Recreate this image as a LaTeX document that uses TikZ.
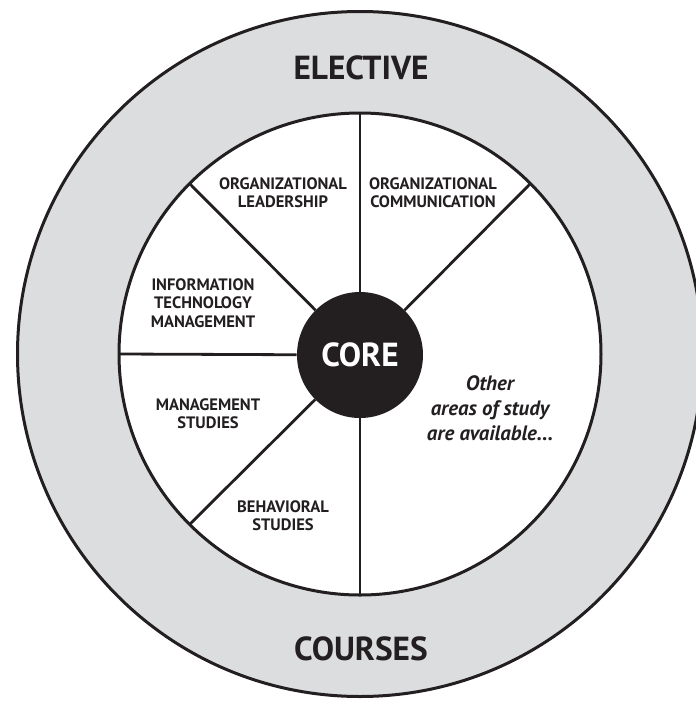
\documentclass[tikz,border=0pt]{standalone}
\usepackage{fontspec}
\setmainfont{PT Sans}
\usetikzlibrary{calc}

\definecolor{ringgray}{RGB}{220,221,223}
\definecolor{inkblack}{RGB}{35,31,32}

\begin{document}
\begin{tikzpicture}[x=0.75pt,y=0.75pt,yscale=-1,xscale=1]
\tikzset{
  ring/.style={draw=inkblack, line width=2.25pt},
  divider/.style={draw=inkblack, line width=2.1pt},
  ringlabel/.style={font=\bfseries\fontsize{25}{29}\selectfont, text=inkblack, inner sep=0.75pt},
  area/.style={font=\bfseries\fontsize{12.4}{13.8}\selectfont, align=center, text=inkblack, inner sep=0.75pt},
}
\useasboundingbox (0,0) rectangle (696,701);

% grey ring and white disc
\draw [ring, fill=ringgray] (360,354) circle (342.5);
\draw [ring, fill=white] (360,354) circle (241);

% points on the disc edge where the dividers end
\foreach \a in {90,135,180,225,270,315}
  \coordinate (rim\a) at ($(360,354)+(\a:241)$);

% Text Node
\node (elective) [ringlabel] at (361,68) {ELECTIVE};
% Text Node
\node (courses) [ringlabel] at (361,649) {COURSES};

% centre disc
\node (core) [circle, fill=inkblack, minimum size=94.5pt, inner sep=0pt, text=white,
  font=\bfseries\fontsize{25}{29}\selectfont] at (360,355) {CORE};

\foreach \a in {90,135,180,225,270,315}
  \draw [divider] (core) -- (rim\a);

% Text Node
\node (orglead) [area] at (283,193) {ORGANIZATIONAL\\LEADERSHIP};
% Text Node
\node (orgcomm) [area] at (433,193) {ORGANIZATIONAL\\COMMUNICATION};
% Text Node
\node (itm) [area] at (203,303) {INFORMATION\\TECHNOLOGY\\MANAGEMENT};
% Text Node
\node (mgmt) [area] at (208,414) {MANAGEMENT\\STUDIES};
% Text Node
\node (behav) [area] at (283,516) {BEHAVIORAL\\STUDIES};
% Text Node
\node (other) [align=center, text=inkblack, inner sep=0.75pt,
  font=\bfseries\itshape\fontsize{15.6}{18.75}\selectfont] at (490,408)
  {Other\\areas of study\\are available...};

\end{tikzpicture}
\end{document}
